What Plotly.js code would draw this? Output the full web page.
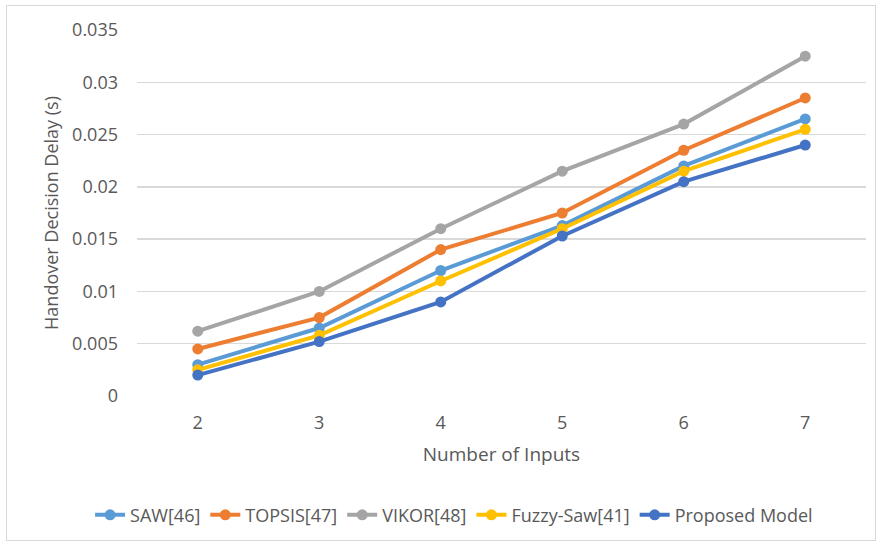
<!DOCTYPE html>
<html>
<head>
<meta charset="utf-8">
<script src="https://cdn.plot.ly/plotly-3.0.1.min.js"></script>
<style>
html,body{margin:0;padding:0;background:#fff;}
#wrap{position:relative;width:880px;height:548px;}
#chart{position:absolute;left:0;top:0;width:880px;height:548px;}
#frame{position:absolute;left:6px;top:5px;width:868px;height:534px;border:1.5px solid #d9d9d9;pointer-events:none;}
</style>
</head>
<body>
<div id="wrap"><div id="chart"></div><div id="frame"></div></div>
<script>
const inputs = [2, 3, 4, 5, 6, 7];
const saw = [0.0030, 0.0065, 0.0120, 0.0163, 0.0220, 0.0265];
const topsis = [0.0045, 0.0075, 0.0140, 0.0175, 0.0235, 0.0285];
const vikor = [0.0062, 0.0100, 0.0160, 0.0215, 0.0260, 0.0325];
const fuzzySaw = [0.0025, 0.0058, 0.0110, 0.0160, 0.0215, 0.0255];
const proposed = [0.0020, 0.0052, 0.0090, 0.0153, 0.0205, 0.0240];
const seriesNames = ['SAW[46]', 'TOPSIS[47]', 'VIKOR[48]', 'Fuzzy-Saw[41]', 'Proposed Model'];
const yTicks = [0, 0.005, 0.01, 0.015, 0.02, 0.025, 0.03, 0.035];
const yTickText = ['0', '0.005', '0.01', '0.015', '0.02', '0.025', '0.03', '0.035'];

const colors = ['#5B9BD5', '#ED7D31', '#A5A5A5', '#FFC000', '#4472C4'];
const data = [saw, topsis, vikor, fuzzySaw, proposed].map((vals, i) => ({
  x: inputs, y: vals, name: seriesNames[i], type: 'scatter', mode: 'lines+markers',
  line: {color: colors[i], width: 4},
  marker: {color: colors[i], size: 11}
}));

const fam = '"Open Sans", sans-serif';
const layout = {
  width: 880, height: 548,
  margin: {l: 137, r: 14, t: 30, b: 152, autoexpand: false},
  paper_bgcolor: '#fff', plot_bgcolor: '#fff',
  font: {family: fam, color: '#595959', size: 18},
  showlegend: true,
  legend: {orientation: 'h', xref: 'container', yref: 'container',
    x: 0.516, xanchor: 'center', y: 0.06, yanchor: 'middle',
    font: {family: fam, size: 18, color: '#595959'}, itemwidth: 30, tracegroupgap: 0},
  xaxis: {
    range: [1.5, 7.5], tickmode: 'array', tickvals: inputs, ticktext: inputs.map(String),
    showgrid: false, zeroline: false, showline: false,
    ticks: '', ticklabelstandoff: 14,
    tickfont: {size: 18},
    title: {text: 'Number of Inputs', font: {size: 19, color: '#595959'}, standoff: 14},
    fixedrange: true
  },
  yaxis: {
    range: [0, 0.035], tickmode: 'array', tickvals: yTicks, ticktext: yTickText,
    showgrid: true, gridcolor: '#d9d9d9', gridwidth: 1.5, zeroline: false, showline: false,
    ticks: '', ticklabelstandoff: 18,
    tickfont: {size: 18},
    title: {text: 'Handover Decision Delay (s)', font: {size: 18, color: '#595959'}, standoff: 8},
    fixedrange: true
  }
};
Plotly.newPlot('chart', data, layout, {displayModeBar: false, staticPlot: true});
</script>
</body>
</html>
